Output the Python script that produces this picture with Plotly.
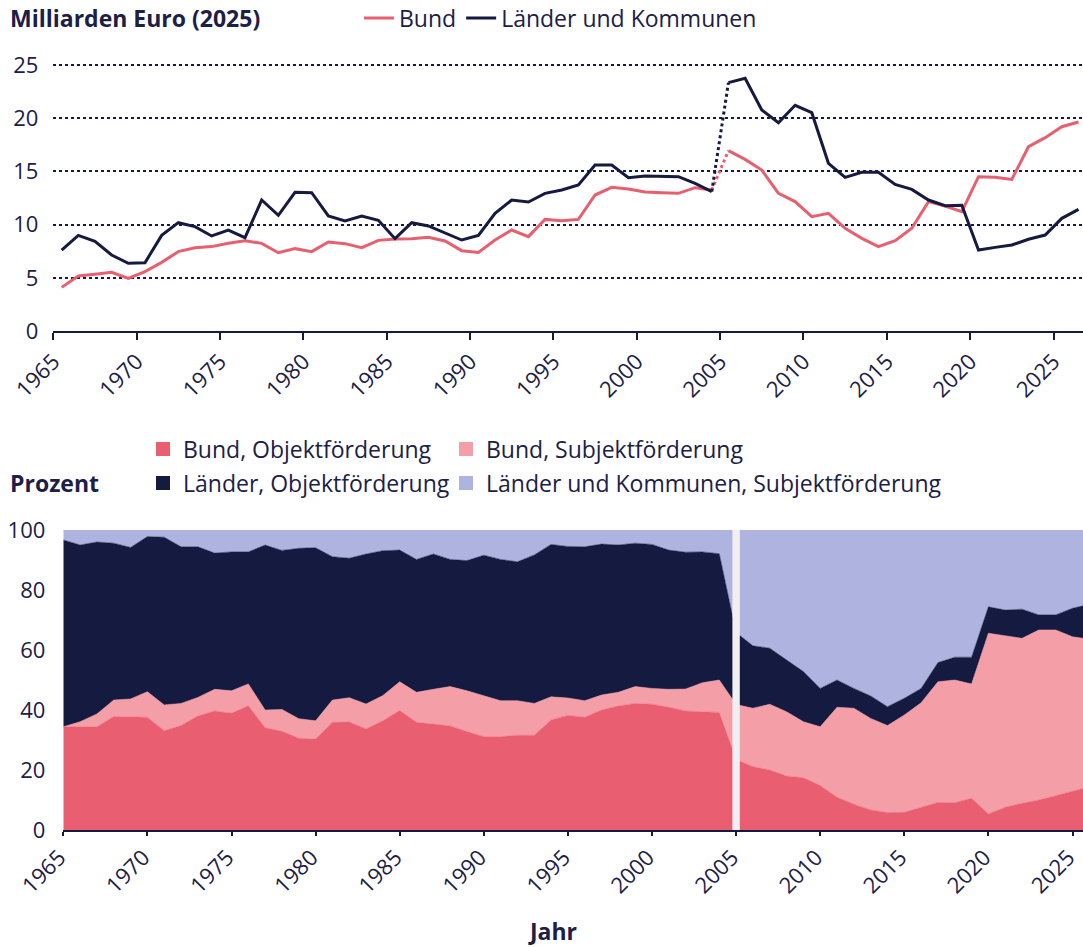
import plotly.graph_objects as go

W, H = 1083, 947
NAVY = "#151a40"
TEXT = "#1c2046"
RED = "#e8606f"
RED_AREA = "#e95f71"
PINK = "#f49ea8"
LAV = "#afb3df"
FONT = "Open Sans"

years = list(range(1965, 2027))

# Milliarden Euro (2025)
bund_mrd = [4.10, 5.17, 5.33, 5.51, 4.95, 5.58, 6.45, 7.46, 7.83, 7.93,
            8.24, 8.49, 8.24, 7.36, 7.74, 7.46, 8.36, 8.21, 7.83, 8.52,
            8.65, 8.68, 8.80, 8.46, 7.55, 7.39, 8.55, 9.49, 8.87, 10.49,
            10.37, 10.49, 12.78, 13.50, 13.35, 13.06, 13.00, 12.94, 13.47, 13.25,
            16.95, 16.13, 15.13, 12.94, 12.16, 10.75, 11.06, 9.65, 8.71, 7.93,
            8.49, 9.65, 12.16, 11.75, 11.22, 14.50, 14.44, 14.25, 17.32, 18.17,
            19.20, 19.64]
laender_mrd = [7.61, 8.99, 8.43, 7.14, 6.36, 6.42, 8.99, 10.18, 9.81, 8.93,
               9.49, 8.77, 12.31, 10.87, 13.03, 13.00, 10.81, 10.34, 10.81, 10.40,
               8.68, 10.18, 9.87, 9.18, 8.55, 8.99, 11.06, 12.31, 12.12, 12.94,
               13.25, 13.72, 15.60, 15.60, 14.41, 14.57, 14.50, 14.50, 13.88, 13.10,
               23.34, 23.75, 20.77, 19.58, 21.21, 20.52, 15.76, 14.44, 14.91, 14.91,
               13.78, 13.31, 12.31, 11.78, 11.81, 7.61, 7.86, 8.08, 8.62, 9.02,
               10.59, 11.43]

# Prozent (Anteile)
bund_objekt = [34.4, 34.4, 34.4, 37.8, 37.7, 37.6, 33.1, 34.8, 38.0, 39.7,
               38.9, 41.4, 34.1, 32.9, 30.6, 30.3, 35.9, 36.0, 33.7, 36.4,
               39.8, 35.9, 35.3, 34.7, 32.8, 31.1, 31.1, 31.6, 31.6, 36.7,
               38.2, 37.6, 40.0, 41.3, 42.2, 41.9, 40.9, 39.7, 39.4, 39.2,
               23.5, 21.1, 20.0, 18.0, 17.4, 14.8, 10.9, 8.6, 6.7, 5.8,
               5.9, 7.6, 9.2, 9.1, 10.6, 5.3, 7.6, 8.9, 10.0, 11.4,
               13.0, 14.4]
bund_subjekt = [0.0, 1.7, 4.3, 5.5, 6.0, 8.5, 8.6, 7.4, 6.2, 7.2,
                7.5, 7.3, 5.9, 7.3, 6.5, 6.1, 7.4, 8.1, 8.3, 8.4,
                9.6, 10.0, 11.6, 13.1, 13.6, 13.6, 12.0, 11.5, 10.6, 7.7,
                5.8, 5.5, 5.0, 4.6, 5.6, 5.3, 6.0, 7.3, 9.7, 10.8,
                18.3, 19.5, 21.9, 21.4, 18.7, 19.6, 30.0, 32.0, 30.5, 29.0,
                32.4, 34.8, 40.2, 40.9, 38.1, 60.3, 57.1, 55.0, 56.7, 55.3,
                51.4, 49.2]
laender_objekt = [62.3, 58.9, 57.3, 52.3, 50.5, 51.7, 55.9, 52.2, 50.2, 45.4,
                  46.3, 44.0, 55.0, 53.0, 56.8, 57.7, 47.8, 46.5, 50.0, 48.3,
                  43.9, 44.3, 45.1, 42.4, 43.4, 46.9, 47.1, 46.3, 49.5, 50.8,
                  50.5, 51.3, 50.3, 49.1, 47.8, 48.0, 46.4, 45.6, 43.6, 42.1,
                  24.0, 20.8, 18.7, 17.3, 16.7, 12.8, 9.1, 6.6, 7.5, 6.3,
                  5.6, 4.8, 6.4, 7.6, 8.9, 8.8, 8.6, 9.7, 5.0, 5.0,
                  9.5, 11.6]
lk_subjekt = [3.3, 5.0, 4.0, 4.4, 5.8, 2.2, 2.4, 5.6, 5.6, 7.7,
              7.3, 7.3, 5.0, 6.8, 6.1, 5.9, 8.9, 9.4, 8.0, 6.9,
              6.7, 9.8, 8.0, 9.8, 10.2, 8.4, 9.8, 10.6, 8.3, 4.8,
              5.5, 5.6, 4.7, 5.0, 4.4, 4.8, 6.7, 7.4, 7.3, 7.9,
              34.2, 38.6, 39.4, 43.3, 47.2, 52.8, 50.0, 52.8, 55.3, 58.9,
              56.1, 52.8, 44.2, 42.4, 42.4, 25.6, 26.7, 26.4, 28.3, 28.3,
              26.1, 24.8]

BREAK_YEAR = 2005
tick_years = list(range(1965, 2030, 5))

TICK_SIZE = 22
TXT_SIZE = 23

fig = go.Figure()

# ---------- top chart: lines ----------
xt = [y + 0.5 for y in years]
ib = years.index(BREAK_YEAR)
for name, vals, col in [("Bund", bund_mrd, RED), ("Länder und Kommunen", laender_mrd, NAVY)]:
    fig.add_trace(go.Scatter(x=xt[:ib], y=vals[:ib], mode="lines", name=name,
                             line=dict(color=col, width=3), legend="legend",
                             xaxis="x", yaxis="y", hoverinfo="skip"))
    fig.add_trace(go.Scatter(x=xt[ib - 1:ib + 1], y=vals[ib - 1:ib + 1], mode="lines",
                             line=dict(color=col, width=3, dash="dot"), showlegend=False,
                             xaxis="x", yaxis="y", hoverinfo="skip"))
    fig.add_trace(go.Scatter(x=xt[ib:], y=vals[ib:], mode="lines", showlegend=False,
                             line=dict(color=col, width=3),
                             xaxis="x", yaxis="y", hoverinfo="skip"))

# ---------- bottom chart: stacked areas ----------
areas = [("Bund, Objektförderung", bund_objekt, RED_AREA),
         ("Bund, Subjektförderung", bund_subjekt, PINK),
         ("Länder, Objektförderung", laender_objekt, NAVY),
         ("Länder und Kommunen, Subjektförderung", lk_subjekt, LAV)]
for name, vals, col in areas:
    fig.add_trace(go.Scatter(x=years, y=vals, mode="lines", stackgroup="one",
                             line=dict(width=0.5, color=col), fillcolor=col,
                             showlegend=False, xaxis="x2", yaxis="y2", hoverinfo="skip"))
legend_ids = ["legend2", "legend3", "legend4", "legend5"]
for (name, vals, col), lg in zip(areas, legend_ids):
    fig.add_trace(go.Scatter(x=[None], y=[None], mode="markers", name=name,
                             marker=dict(symbol="square", size=14, color=col),
                             legend=lg, xaxis="x2", yaxis="y2"))

# break marker in bottom chart
fig.add_shape(type="rect", xref="x2", yref="y2", x0=BREAK_YEAR - 0.22, x1=BREAK_YEAR + 0.22,
              y0=0, y1=100, fillcolor="#f0f0f2", line=dict(width=0), layer="above")


def px_x(p):
    return p / W


def px_y(p):
    return 1 - p / H


top_ppy = 16.67
top_ppu = 10.64
bot_ppy = 16.82
TOP_YMAX = 25.5
axis_common = dict(tickfont=dict(family=FONT, size=TICK_SIZE, color=TEXT), automargin=False)
lfont = dict(family=FONT, size=TXT_SIZE, color=TEXT)


def leg(x, y):
    return dict(orientation="h", x=px_x(x), y=px_y(y), xanchor="left", yanchor="middle",
                font=lfont, bgcolor="rgba(0,0,0,0)", itemwidth=30, traceorder="normal")


fig.update_layout(
    width=W, height=H,
    margin=dict(l=0, r=0, t=0, b=0, autoexpand=False),
    paper_bgcolor="white", plot_bgcolor="white",
    font=dict(family=FONT, size=TXT_SIZE, color=TEXT),
    xaxis=dict(domain=[px_x(53.3), 1], range=[1965, 1965 + (W - 53.3) / top_ppy],
               tickvals=tick_years, tickangle=-45, ticks="outside", ticklen=7, tickwidth=2,
               tickcolor=NAVY, showline=True, linecolor=NAVY, linewidth=2,
               ticklabeloverflow="allow",
               showgrid=False, zeroline=False, anchor="y", **axis_common),
    yaxis=dict(domain=[px_y(331), px_y(331 - TOP_YMAX * top_ppu)], range=[0, TOP_YMAX],
               tickvals=[0, 5, 10, 15, 20, 25],
               showgrid=True, gridcolor=NAVY, griddash="dot", gridwidth=1.5,
               zeroline=False, showline=False, ticks="", ticklabelstandoff=14,
               anchor="x", **axis_common),
    xaxis2=dict(domain=[px_x(63.3), 1], range=[1965, 1965 + (W - 63.3) / bot_ppy],
                tickvals=tick_years, tickangle=-45, ticks="outside", ticklen=4, tickwidth=1.5,
                tickcolor=NAVY, showline=True, linecolor=NAVY, linewidth=2,
                ticklabeloverflow="allow", ticklabelshift=-4,
                showgrid=False, zeroline=False, anchor="y2", **axis_common),
    yaxis2=dict(domain=[px_y(830), px_y(530)], range=[0, 100], tickvals=[0, 20, 40, 60, 80, 100],
                showgrid=False, zeroline=False, showline=False, ticks="", ticklabelstandoff=17,
                anchor="x2", **axis_common),
    legend=leg(359, 18),
    legend2=leg(143, 449),
    legend3=leg(446, 449),
    legend4=leg(143, 483),
    legend5=leg(446, 483),
    annotations=[
        dict(text="<b>Milliarden Euro (2025)</b>", x=px_x(8), y=px_y(18), xref="paper", yref="paper",
             xanchor="left", yanchor="middle", showarrow=False, font=lfont),
        dict(text="<b>Prozent</b>", x=px_x(8), y=px_y(483), xref="paper", yref="paper",
             xanchor="left", yanchor="middle", showarrow=False, font=lfont),
        dict(text="<b>Jahr</b>", x=px_x(552), y=px_y(931), xref="paper", yref="paper",
             xanchor="center", yanchor="middle", showarrow=False, font=lfont),
    ],
)

fig.write_html(
    "out.html",
    config={"displayModeBar": False},
    post_script="document.body.style.margin='0';document.body.style.overflow='hidden';",
)
